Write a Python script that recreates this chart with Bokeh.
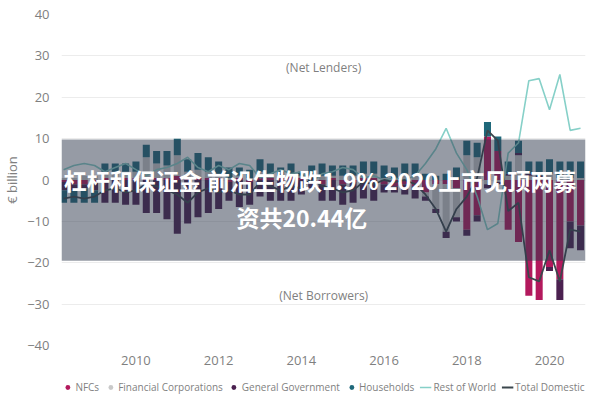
import numpy as np
import pandas as pd
from bokeh.plotting import figure
from bokeh.layouts import column
from bokeh.models import Range1d, FixedTicker, Legend, LegendItem, Label, BoxAnnotation
from bokeh.embed import file_html
from bokeh.resources import INLINE

# ---- data (EUR billion, quarterly 2008Q2 - 2020Q4) ----
periods = pd.period_range("2008Q2", "2020Q4", freq="Q")
xq = np.array([p.year + (p.quarter - 1) / 4 for p in periods])

nfcs = [-0.5, -1.0, -1.0, -0.5, 0.5, 0.5, 0.5, 0.5, 0.5, 0.5,
        0.5, 1.0, 0.5, 0.5, 0.5, 0.5, -0.5, 0.5, -0.5, 1.0,
        0.5, 0.5, 1.0, 0.5, 0.5, -1.0, 0.5, -1.0, -0.5, 0.5,
        0.5, -1.0, -1.5, -1.0, -1.5, -3.0, -1.0, -1.0, -2.0, -12.0,
        -8.5, 10.5, 7.0, -12.0, -15.0, -28.0, -29.0, -21.0, -24.0, -10.0,
        -11.0]
fin_corp = [0.5, 0.5, 1.0, 1.0, 1.5, 1.5, 1.5, 1.5, 5.0, 3.5,
            3.0, 5.0, 1.5, 2.0, 1.5, 1.0, 0.5, 0.5, 0.5, 1.0,
            1.0, 0.5, 0.5, 0.5, 0.5, 1.0, 0.5, 1.0, 1.0, 1.0,
            1.0, 0.5, 0.5, 1.0, 1.0, -1.0, -6.0, -11.5, -7.0, 6.0,
            5.5, -1.0, -0.5, 1.0, 6.0, 1.0, 0.5, 1.5, 0.5, 0.5,
            0.5]
gen_gov = [-2.0, -1.5, -1.0, -2.0, -5.5, -5.5, -6.0, -6.0, -8.0, -8.0,
           -9.5, -13.0, -10.5, -9.0, -8.0, -7.0, -4.5, -6.5, -5.5, -4.0,
           -5.0, -5.0, -5.0, -3.5, -2.0, -4.0, -5.0, -5.0, -5.0, -4.5,
           -5.0, -2.0, -1.5, -2.5, -3.0, -1.0, -1.0, -1.5, -1.0, -1.5,
           -1.5, -1.0, -0.5, 0.5, 0.5, 0.5, 0.5, -1.0, -5.0, -6.5,
           -6.0]
households = [-3.0, -3.0, -3.5, -3.0, 2.0, 2.0, 2.0, 2.5, 3.0, 3.0,
              3.5, 4.0, 3.0, 4.0, 3.5, 3.0, 2.5, 2.0, 2.0, 3.0,
              2.5, 2.0, 2.5, 1.0, 2.5, 3.0, 2.5, 2.5, 2.5, 3.0,
              3.0, 3.0, 2.5, 3.0, 3.0, 1.5, 1.0, 1.5, 3.0, 3.5,
              3.5, 3.5, 3.5, 3.0, 3.0, 3.0, 3.5, 3.5, 4.0, 4.0,
              4.0]
rest_of_world = [2.5, 3.5, 4.0, 3.5, 2.0, 3.0, 4.0, 2.5, 1.0, 2.5,
                 3.0, 4.0, 5.5, 3.0, 2.0, 3.5, 2.5, 4.0, 3.5, 0.5,
                 1.5, 2.5, 1.5, 2.0, -0.5, 1.5, 2.0, 3.0, 2.5, 0.5,
                 1.0, 0.0, 0.5, 0.0, 1.0, 4.0, 7.5, 12.5, 6.5, 2.5,
                 -4.0, -12.0, -10.5, 6.5, 9.0, 24.0, 24.5, 17.0, 25.5, 12.0,
                 12.5]
total_domestic = [-4.5, -4.0, -4.5, -4.0, -2.5, -2.0, -3.0, -2.5, -1.0, -1.5,
                  -2.5, -3.5, -5.5, -3.0, -2.0, -3.0, -2.5, -3.5, -3.5, -0.5,
                  -1.5, -2.5, -1.5, -2.0, 0.5, -1.5, -2.0, -3.0, -2.5, -0.5,
                  -1.0, 0.0, -0.5, 0.0, -1.0, -3.5, -7.0, -12.5, -7.0, -4.0,
                  0.5, 12.0, 9.5, -7.5, -5.5, -23.5, -24.5, -17.0, -24.5, -12.0,
                  -12.5]

series_names = ["NFCs", "Financial Corporations", "General Government", "Households"]
series_vals = [nfcs, fin_corp, gen_gov, households]
series_colors = ["#b3195d", "#c9c9c9", "#4b2150", "#1f687a"]
line_names = ["Rest of World", "Total Domestic"]
line_vals = [rest_of_world, total_domestic]
line_colors = ["#86d0c8", "#3b474d"]
line_widths = [1.6, 1.8]
y_ticks = [-40, -30, -20, -10, 0, 10, 20, 30, 40]
x_ticks = [2010, 2012, 2014, 2016, 2018, 2020]

FONT = "Open Sans"
GREY = "#7f7f7f"

# ---------------- main chart ----------------
p = figure(width=600, height=368, output_backend="svg", toolbar_location=None,
           x_range=Range1d(2008.2, 2020.87), y_range=Range1d(-40, 40),
           min_border_left=58, min_border_right=15, min_border_top=14, min_border_bottom=23)
p.outline_line_color = None
p.background_fill_color = "white"

pos_base = np.zeros(len(xq))
neg_base = np.zeros(len(xq))
for name, vals, col in zip(series_names, series_vals, series_colors):
    v = np.array(vals, dtype=float)
    bottom = np.where(v >= 0, pos_base, neg_base + v)
    top = np.where(v >= 0, pos_base + v, neg_base)
    pos_base = pos_base + np.clip(v, 0, None)
    neg_base = neg_base + np.clip(v, None, 0)
    p.vbar(x=xq, bottom=bottom, top=top, width=0.17, fill_color=col, line_color=None)

for vals, col, lw in zip(line_vals, line_colors, line_widths):
    p.line(xq, vals, line_color=col, line_width=lw)

p.yaxis.ticker = FixedTicker(ticks=y_ticks)
p.xaxis.ticker = FixedTicker(ticks=x_ticks)
for ax in (p.xaxis[0], p.yaxis[0]):
    ax.axis_line_color = None
    ax.major_tick_line_color = None
    ax.minor_tick_line_color = None
    ax.major_label_text_color = GREY
    ax.major_label_text_font = FONT
    ax.major_label_text_font_size = "13px"
p.yaxis.major_label_standoff = 6
p.xaxis.major_label_standoff = 4
p.yaxis.axis_label = "€ billion"
p.yaxis.axis_label_text_font = FONT
p.yaxis.axis_label_text_font_size = "13px"
p.yaxis.axis_label_text_font_style = "normal"
p.yaxis.axis_label_text_color = GREY
p.yaxis.axis_label_standoff = 3
p.xgrid.grid_line_color = None
p.ygrid.grid_line_color = "#ececec"
p.ygrid.grid_line_width = 1

p.add_layout(Label(x=2014.54, y=27.2, text="(Net Lenders)", text_align="center",
                   text_baseline="middle", text_font=FONT, text_font_size="12px",
                   text_color=GREY))
p.add_layout(Label(x=2014.54, y=-27.9, text="(Net Borrowers)", text_align="center",
                   text_baseline="middle", text_font=FONT, text_font_size="12px",
                   text_color=GREY))

# overlay banner with headline
p.add_layout(BoxAnnotation(top=9.8, bottom=-19.5, fill_color="#2d374b", fill_alpha=0.5,
                           line_color=None, level="overlay"))
for txt, xx, yy in (("杠杆和保证金 前沿生物跌1.9% 2020上市见顶两募", 2014.45, 0.1),
                    ("资共20.44亿", 2014.01, -8.9)):
    p.add_layout(Label(x=xx, y=yy, text=txt, text_align="center", text_baseline="middle",
                       text_font="Noto Sans CJK SC", text_font_size="23px",
                       text_font_style="bold", text_color="white", level="overlay"))

# ---------------- legend strip ----------------
lg = figure(width=600, height=32, output_backend="svg", toolbar_location=None,
            x_range=Range1d(0, 1), y_range=Range1d(0, 1),
            x_axis_location=None, y_axis_location=None,
            min_border_left=0, min_border_right=0, min_border_top=0, min_border_bottom=0)
lg.outline_line_color = None
lg.grid.visible = False
items = []
for name, col in zip(series_names, series_colors):
    r = lg.scatter(x=[0.5], y=[np.nan], marker="circle", size=6, fill_color=col, line_color=None)
    items.append(LegendItem(label=name, renderers=[r]))
for name, col, lw in zip(line_names, line_colors, line_widths):
    r = lg.line(x=[0.5, 0.5], y=[np.nan, np.nan], line_color=col, line_width=lw)
    items.append(LegendItem(label=name, renderers=[r]))
legend = Legend(items=items, orientation="horizontal", location="bottom_center",
                label_text_font=FONT, label_text_font_size="10px", label_text_color=GREY,
                glyph_width=12, glyph_height=12, label_height=12, label_standoff=2,
                spacing=5, padding=0, margin=6, background_fill_alpha=0,
                border_line_color=None)
lg.add_layout(legend, "center")

layout = column(p, lg, spacing=0)
open("out.html", "w").write(file_html(layout, INLINE))
